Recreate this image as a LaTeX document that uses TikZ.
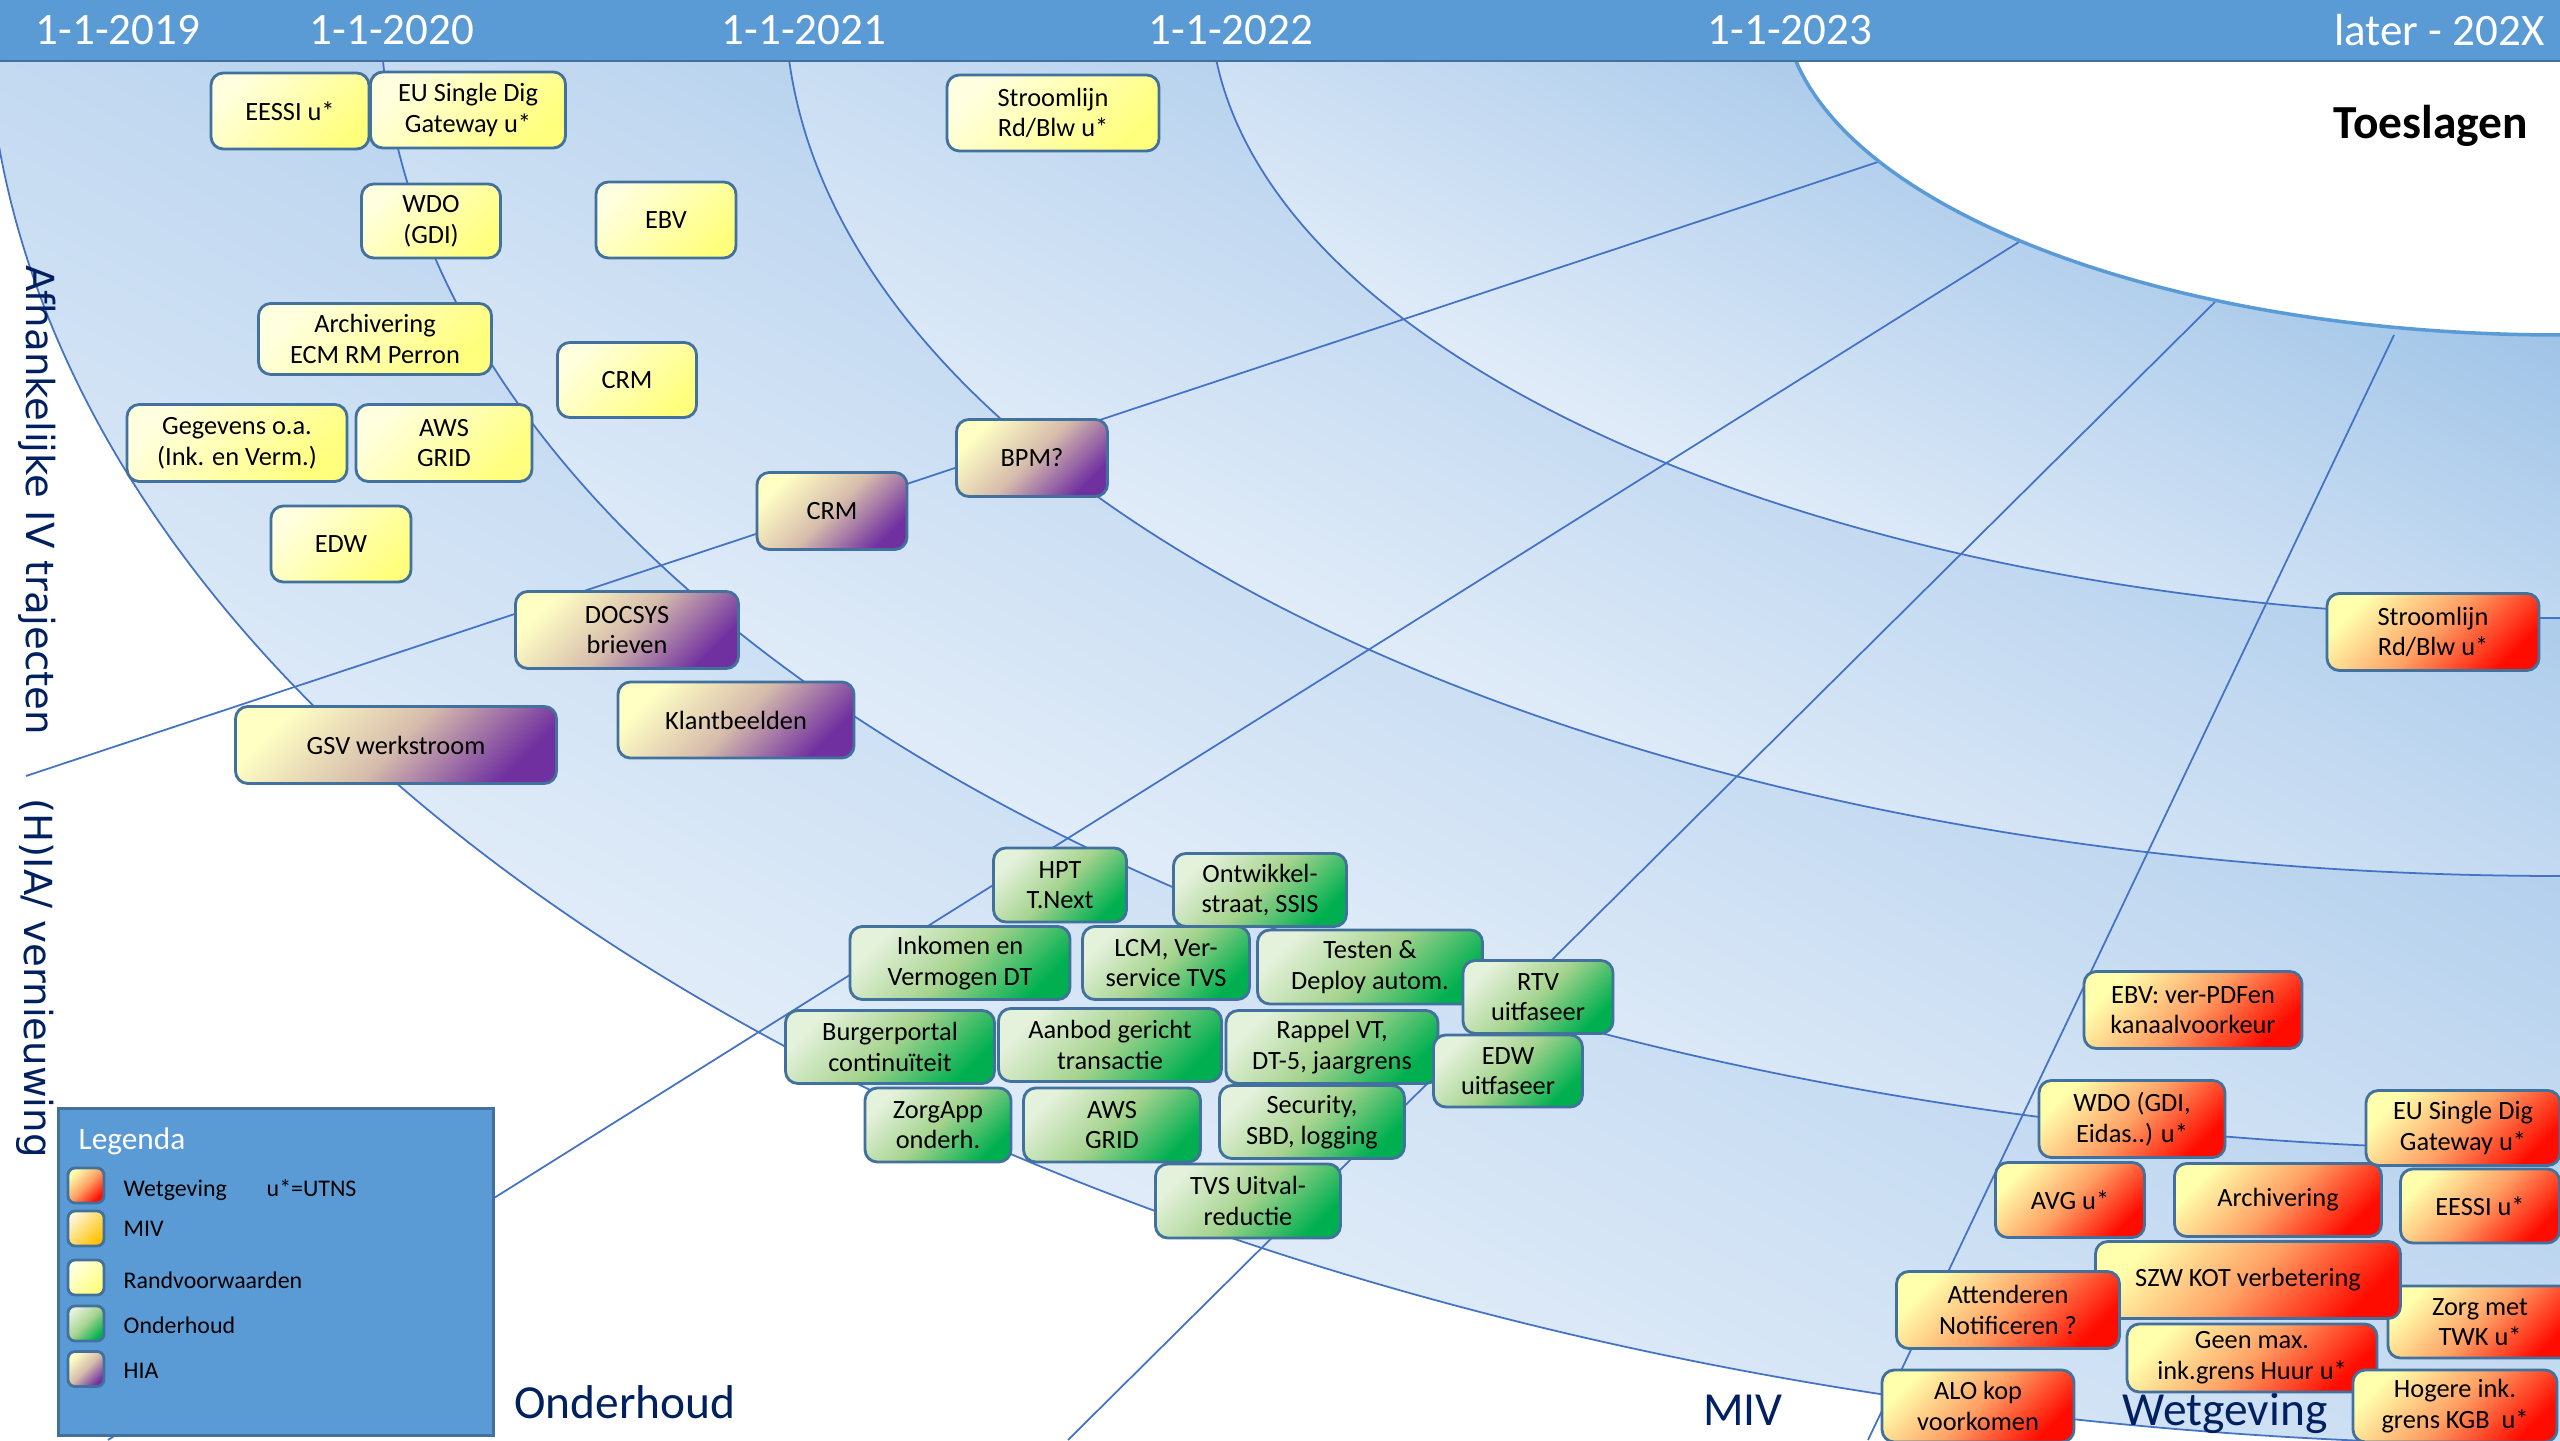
\documentclass[tikz,border=0pt]{standalone}
\usepackage{fontspec}
\setmainfont{Carlito}
\newfontfamily\sidefont{DejaVu Sans}
\usetikzlibrary{positioning}

\definecolor{bandblue}{RGB}{91, 155, 213}
\definecolor{bandedge}{RGB}{65, 113, 156}
\definecolor{gridblue}{RGB}{68, 114, 196}
\definecolor{ringdark}{RGB}{140, 184, 226}
\definecolor{ringmid}{RGB}{196, 218, 241}
\definecolor{ringlight}{RGB}{247, 250, 254}
\definecolor{navytext}{RGB}{0, 32, 96}
\definecolor{boxedge}{RGB}{65, 113, 156}
\definecolor{randtop}{RGB}{255, 255, 224}
\definecolor{randbot}{RGB}{255, 255, 125}
\definecolor{hiatop}{RGB}{255, 255, 196}
\definecolor{hiamid}{RGB}{214, 188, 172}
\definecolor{hiabot}{RGB}{112, 48, 160}
\definecolor{ondtop}{RGB}{228, 241, 219}
\definecolor{ondmid}{RGB}{165, 211, 142}
\definecolor{ondbot}{RGB}{0, 176, 80}
\definecolor{wettop}{RGB}{255, 255, 172}
\definecolor{wetmid}{RGB}{255, 160, 100}
\definecolor{wetbot}{RGB}{255, 12, 0}
\definecolor{mivtop}{RGB}{255, 246, 214}
\definecolor{mivbot}{RGB}{255, 192, 0}

\tikzset{
  gridline/.style={gridblue, line width=0.5pt},
  rimline/.style={bandblue, line width=1pt},
  ringshade/.style={top color=ringdark, bottom color=ringlight, middle color=ringmid, shading angle=-27},
  datelabel/.style={text=white, inner sep=0pt, font=\fontsize{12.8}{15}\selectfont},
  sidelabel/.style={text=navytext, rotate=-90, inner sep=0pt, font=\sidefont\fontsize{11}{13}\selectfont},
  lanelabel/.style={text=navytext, anchor=base, inner sep=0pt, font=\fontsize{13.5}{16}\selectfont},
  randshade/.style={top color=randtop, bottom color=randbot, shading angle=45},
  hiashade/.style={top color=hiatop, bottom color=hiabot, middle color=hiamid, shading angle=45},
  ondshade/.style={top color=ondtop, bottom color=ondbot, middle color=ondmid, shading angle=45},
  wetshade/.style={top color=wettop, bottom color=wetbot, middle color=wetmid, shading angle=45},
  mivshade/.style={top color=mivtop, bottom color=mivbot, shading angle=45},
  tile/.style={draw=boxedge, line width=0.8pt, rounded corners=3.5pt, minimum height=0.76cm,
    inner sep=1pt, align=center, font=\fontsize{7.5}{8.7}\selectfont},
  randtile/.style={tile, randshade},
  hiatile/.style={tile, hiashade},
  ondtile/.style={tile, ondshade, minimum height=0.73cm},
  wettile/.style={tile, wetshade},
  swatch/.style={draw=boxedge, line width=0.8pt, rounded corners=2pt, minimum width=0.36cm,
    minimum height=0.35cm, inner sep=0pt},
  legtext/.style={anchor=base west, inner sep=0pt, font=\fontsize{6.8}{8}\selectfont}
}

\begin{document}
\begin{tikzpicture}
  \useasboundingbox (0,0) rectangle (25.6,14.4);
  \clip (0,0) rectangle (25.6,14.4);
  \fill[white] (0,0) rectangle (25.6,14.4);
  \coordinate (ctr) at (25.6,14.4);

  % Shaded bands, outer one first
  \begin{scope}
    \clip (ctr) ellipse [x radius=25.74, y radius=14.45];
    \shade[ringshade] (-0.14,-0.05) rectangle (ctr);
  \end{scope}
  \begin{scope}
    \clip (ctr) ellipse [x radius=21.8, y radius=11.5];
    \shade[ringshade] (3.8,2.9) rectangle (ctr);
  \end{scope}
  \begin{scope}
    \clip (ctr) ellipse [x radius=17.75, y radius=8.76];
    \shade[ringshade] (7.85,5.64) rectangle (ctr);
  \end{scope}
  \begin{scope}
    \clip (ctr) ellipse [x radius=13.5, y radius=6.18];
    \shade[ringshade] (12.1,8.22) rectangle (ctr);
  \end{scope}

  % Year arcs
  \draw[gridline] (ctr) ++(-13.5,0) arc[start angle=180, end angle=270, x radius=13.5, y radius=6.18];
  \draw[gridline] (ctr) ++(-17.75,0) arc[start angle=180, end angle=270, x radius=17.75, y radius=8.76];
  \draw[gridline] (ctr) ++(-21.8,0) arc[start angle=180, end angle=270, x radius=21.8, y radius=11.5];
  \draw[gridline] (ctr) ++(-25.74,0) arc[start angle=180, end angle=270, x radius=25.74, y radius=14.45];

  % Spokes
  \draw[gridline] (0.26,6.64) -- (18.84,12.80);
  \draw[gridline] (1.08,0) -- (20.19,11.98);
  \draw[gridline] (10.68,0) -- (22.15,11.38);
  \draw[gridline] (18.68,0) -- (23.94,11.05);

  % Inner field
  \fill[white] (ctr) ellipse [x radius=7.77, y radius=3.35];
  \draw[rimline] (ctr) ++(-7.77,0) arc[start angle=180, end angle=270, x radius=7.77, y radius=3.35];

  % Time band
  \fill[bandblue] (0,13.79) rectangle (25.6,14.4);
  \draw[bandedge, line width=0.8pt] (0,13.79) -- (25.6,13.79);
  \node[datelabel] (y2019) at (1.18,14.095) {1-1-2019};
  \node[datelabel] (y2020) at (3.92,14.095) {1-1-2020};
  \node[datelabel] (y2021) at (8.04,14.095) {1-1-2021};
  \node[datelabel] (y2022) at (12.31,14.095) {1-1-2022};
  \node[datelabel] (y2023) at (17.90,14.095) {1-1-2023};
  \node[datelabel, anchor=east] (ylater) at (25.45,14.095) {later - 202X};

  \node[font=\fontsize{13.5}{16}\selectfont\bfseries] (toeslagen) at (24.31,13.14) {Toeslagen};

  % Side and lane labels
  \node[sidelabel] (afh) at (0.37,9.40) {Afhankelijke IV trajecten};
  \node[sidelabel] (hia) at (0.35,4.62) {(H)IA/ vernieuwing};
  \node[lanelabel] (lond) at (6.25,0.22) {Onderhoud};
  \node[lanelabel] (lmiv) at (17.43,0.15) {MIV};
  \node[lanelabel] (lwet) at (22.25,0.15) {Wetgeving};

  % Randvoorwaarden
  \node[randtile, minimum width=1.58cm] (eessiR) at (2.90,13.29) {EESSI u*};
  \node[randtile, minimum width=1.95cm] (singleR) at (4.68,13.30) {EU Single Dig\\Gateway u*};
  \node[randtile, minimum width=2.12cm] (stroomR) at (10.53,13.27) {Stroomlijn\\Rd/Blw u*};
  \node[randtile, minimum width=1.39cm, minimum height=0.74cm] (wdoR) at (4.31,12.19) {WDO\\(GDI)};
  \node[randtile, minimum width=1.40cm] (ebvR) at (6.66,12.20) {EBV};
  \node[randtile, minimum width=2.33cm, minimum height=0.71cm] (archR) at (3.75,11.01) {Archivering\\ECM RM Perron};
  \node[randtile, minimum width=1.39cm, minimum height=0.75cm] (crmR) at (6.27,10.60) {CRM};
  \node[randtile, minimum width=2.20cm, minimum height=0.77cm] (gegR) at (2.37,9.97) {Gegevens o.a.\\(Ink. en Verm.)};
  \node[randtile, minimum width=1.76cm, minimum height=0.77cm] (awsR) at (4.44,9.97) {AWS\\GRID};
  \node[randtile, minimum width=1.40cm] (edwR) at (3.41,8.96) {EDW};

  % HIA
  \node[hiatile, minimum width=1.51cm, minimum height=0.77cm] (bpmH) at (10.32,9.82) {BPM?};
  \node[hiatile, minimum width=1.50cm, minimum height=0.77cm] (crmH) at (8.32,9.29) {CRM};
  \node[hiatile, minimum width=2.23cm, minimum height=0.77cm] (docH) at (6.27,8.10) {DOCSYS\\brieven};
  \node[hiatile, minimum width=2.36cm] (klantH) at (7.36,7.20) {Klantbeelden};
  \node[hiatile, minimum width=3.21cm, minimum height=0.77cm] (gsvH) at (3.96,6.95) {GSV werkstroom};

  % Onderhoud
  \node[ondtile, minimum width=1.33cm, minimum height=0.74cm] (hptO) at (10.60,5.55) {HPT\\T.Next};
  \node[ondtile, minimum width=1.73cm] (ontwO) at (12.60,5.50) {Ontwikkel-\\straat, SSIS};
  \node[ondtile, minimum width=2.20cm] (inkO) at (9.60,4.77) {Inkomen en\\Vermogen DT};
  \node[ondtile, minimum width=1.67cm] (lcmO) at (11.66,4.77) {LCM, Ver-\\service TVS};
  \node[ondtile, minimum width=2.25cm, minimum height=0.74cm] (testO) at (13.70,4.73) {Testen \&\\Deploy autom.};
  \node[ondtile, minimum width=1.50cm] (rtvO) at (15.38,4.43) {RTV\\uitfaseer};
  \node[ondtile, minimum width=2.09cm] (burgO) at (8.90,3.93) {Burgerportal\\continuïteit};
  \node[ondtile, minimum width=2.23cm] (aanbO) at (11.10,3.95) {Aanbod gericht\\transactie};
  \node[ondtile, minimum width=2.12cm] (rappO) at (13.32,3.93) {Rappel VT,\\DT-5, jaargrens};
  \node[ondtile, minimum width=1.49cm, minimum height=0.72cm] (edwO) at (15.08,3.69) {EDW\\uitfaseer};
  \node[ondtile, minimum width=1.46cm, minimum height=0.74cm] (zorgO) at (9.38,3.15) {ZorgApp\\onderh.};
  \node[ondtile, minimum width=1.77cm, minimum height=0.74cm] (awsO) at (11.12,3.15) {AWS\\GRID};
  \node[ondtile, minimum width=1.85cm] (secO) at (13.12,3.18) {Security,\\SBD, logging};
  \node[ondtile, minimum width=1.85cm, minimum height=0.74cm] (tvsO) at (12.48,2.39) {TVS Uitval-\\reductie};

  % Wetgeving
  \node[wettile, minimum width=2.12cm, minimum height=0.77cm] (stroomW) at (24.33,8.08) {Stroomlijn\\Rd/Blw u*};
  \node[wettile, minimum width=2.18cm, minimum height=0.77cm] (ebvW) at (21.93,4.30) {EBV: ver-PDFen\\kanaalvoorkeur};
  \node[wettile, minimum width=1.86cm, minimum height=0.77cm] (wdoW) at (21.32,3.21) {WDO (GDI,\\Eidas..) u*};
  \node[wettile, minimum width=1.94cm, minimum height=0.75cm] (singleW) at (24.63,3.12) {EU Single Dig\\Gateway u*};
  \node[wettile, minimum width=1.49cm, minimum height=0.75cm] (avgW) at (20.70,2.40) {AVG u*};
  \node[wettile, minimum width=2.07cm, minimum height=0.73cm] (archW) at (22.78,2.40) {Archivering};
  \node[wettile, minimum width=1.59cm, minimum height=0.74cm] (eessiW) at (24.80,2.34) {EESSI u*};
  \node[wettile, minimum width=1.84cm, minimum height=0.72cm] (twkW) at (24.80,1.18) {Zorg met\\TWK u*};
  \node[wettile, minimum width=3.05cm, minimum height=0.77cm] (szwW) at (22.48,1.60) {SZW KOT verbetering};
  \node[wettile, minimum width=2.23cm, minimum height=0.77cm] (attW) at (20.08,1.30) {Attenderen\\Notificeren ?};
  \node[wettile, minimum width=2.50cm, minimum height=0.68cm] (geenW) at (22.52,0.82) {Geen max.\\ink.grens Huur u*};
  \node[wettile, minimum width=1.92cm, minimum height=0.72cm] (aloW) at (19.78,0.34) {ALO kop\\voorkomen};
  \node[wettile, minimum width=2.04cm, minimum height=0.72cm] (hogW) at (24.55,0.34) {Hogere ink.\\grens KGB\ \ u*};

  % Legend
  \node[draw=bandedge, line width=0.8pt, fill=bandblue, anchor=south west, inner sep=0pt,
    minimum width=4.35cm, minimum height=3.27cm] (legend) at (0.57,0.03) {};
  \node[anchor=base west, inner sep=0pt, text=white, font=\fontsize{8.9}{10}\selectfont] (legtitle) at (0.78,2.90) {Legenda};
  \node[swatch, wetshade] (swWet) at (0.86,2.545) {};
  \node[swatch, mivshade] (swMiv) at (0.86,2.115) {};
  \node[swatch, randshade] (swRand) at (0.86,1.625) {};
  \node[swatch, ondshade] (swOnd) at (0.86,1.165) {};
  \node[swatch, hiashade] (swHia) at (0.86,0.71) {};
  \node[legtext] (ltWet) at (1.23,2.43) {Wetgeving};
  \node[legtext] (ltUtns) at (2.66,2.43) {u*=UTNS};
  \node[legtext] (ltMiv) at (1.23,2.03) {MIV};
  \node[legtext] (ltRand) at (1.23,1.52) {Randvoorwaarden};
  \node[legtext] (ltOnd) at (1.23,1.07) {Onderhoud};
  \node[legtext] (ltHia) at (1.23,0.62) {HIA};
\end{tikzpicture}
\end{document}
